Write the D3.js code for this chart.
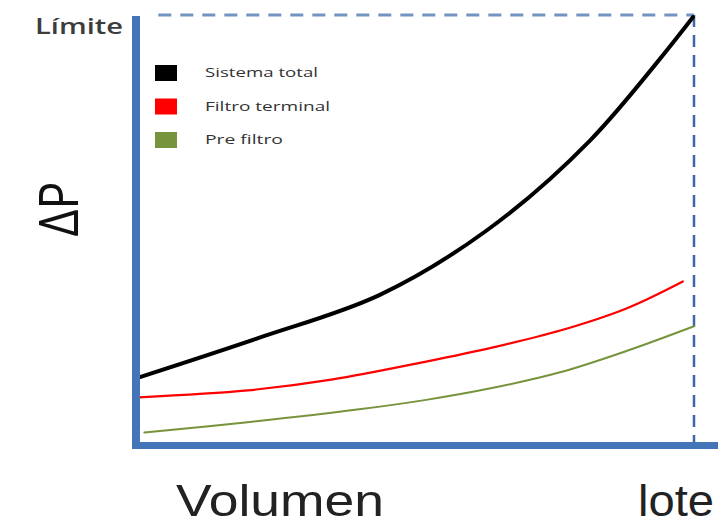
<!DOCTYPE html>
<html>
<head>
<meta charset="utf-8">
<script src="https://cdn.jsdelivr.net/npm/d3@7"></script>
<style>
  html, body { margin: 0; padding: 0; background: #fff; overflow: hidden; }
  svg { display: block; }
</style>
</head>
<body>
<svg id="chart" width="718" height="526"></svg>
<script>
// Pressure drop (ΔP) as filtered volume grows, up to the limit reached at the end of the batch
const seriesNames = ["Sistema total", "Filtro terminal", "Pre filtro"];
const seriesColors = ["#000000", "#ff0000", "#77933c"];

const totalX = [0.7, 22, 43.7, 62.9, 81.4, 99.8];
const totalY = [15.9, 25, 35, 50, 70.9, 99.5];

const terminalX = [0.5, 20, 35, 52, 64, 76, 88, 98];
const terminalY = [11.2, 12.8, 15.3, 19.5, 22.8, 26.7, 31.9, 38.1];

const preX = [1.5, 20, 40, 52, 64, 76, 88, 100];
const preY = [3, 5.4, 8.4, 10.6, 13.4, 17, 22, 27.7];

const limitValue = 100;   // pressure limit
const batchEnd = 100;     // volume at end of batch
const yTickLabels = ["Límite"];

const svg = d3.select("#chart");

const x = d3.scaleLinear().domain([0, 100]).range([136, 694]);
const y = d3.scaleLinear().domain([0, 100]).range([445.5, 15]);

const toPoints = (xs, ys) => xs.map((v, i) => [v, ys[i]]);
const series = [
  toPoints(totalX, totalY),
  toPoints(terminalX, terminalY),
  toPoints(preX, preY)
];
const widths = [4, 2.2, 2];

// limit guides
svg.append("line")
  .attr("x1", x(4)).attr("x2", x(batchEnd))
  .attr("y1", y(limitValue)).attr("y2", y(limitValue))
  .attr("stroke", "#7393c2").attr("stroke-width", 3)
  .attr("stroke-dasharray", "13,9");
svg.append("line")
  .attr("x1", x(batchEnd)).attr("x2", x(batchEnd))
  .attr("y1", y(limitValue)).attr("y2", y(0))
  .attr("stroke", "#3f66a6").attr("stroke-width", 2.5)
  .attr("stroke-dasharray", "12,8");

// curves
const line = d3.line()
  .x(d => x(d[0])).y(d => y(d[1]))
  .curve(d3.curveCatmullRom.alpha(0.5));

svg.selectAll("path.serie")
  .data(series)
  .join("path")
  .attr("class", "serie")
  .attr("d", line)
  .attr("fill", "none")
  .attr("stroke", (d, i) => seriesColors[i])
  .attr("stroke-width", (d, i) => widths[i])
  .attr("stroke-linecap", "round");

// axes
const yAxis = d3.axisLeft(y).tickValues([limitValue]).tickSize(0).tickPadding(8)
  .tickFormat((d, i) => yTickLabels[i]);
const gy = svg.append("g").attr("transform", `translate(${x(0)},0)`).call(yAxis);
gy.select(".domain").remove();
gy.selectAll("text")
  .attr("x", -13)
  .attr("dy", "0.9em")
  .attr("font-family", "'Open Sans', sans-serif")
  .attr("font-weight", "600")
  .attr("font-size", 21)
  .attr("fill", "#3c3c3c")
  .attr("textLength", 88)
  .attr("lengthAdjust", "spacingAndGlyphs");

svg.append("line")
  .attr("x1", x(0)).attr("x2", x(0))
  .attr("y1", y(limitValue) + 1).attr("y2", y(0) + 3.5)
  .attr("stroke", "#4575b9").attr("stroke-width", 8);
svg.append("line")
  .attr("x1", x(0) - 4).attr("x2", 718)
  .attr("y1", y(0)).attr("y2", y(0))
  .attr("stroke", "#4575b9").attr("stroke-width", 7);

// legend
const legend = svg.append("g").attr("transform", "translate(155,65)");
const items = legend.selectAll("g")
  .data(seriesNames)
  .join("g")
  .attr("transform", (d, i) => `translate(0,${i * 33.5})`);
items.append("rect")
  .attr("width", 22).attr("height", 16)
  .attr("fill", (d, i) => seriesColors[i]);
items.append("text")
  .attr("x", 50).attr("y", 12)
  .attr("font-family", "'Open Sans', sans-serif")
  .attr("font-size", 13.5)
  .attr("fill", "#333")
  .attr("textLength", (d, i) => [113, 125, 78][i])
  .attr("lengthAdjust", "spacingAndGlyphs")
  .text(d => d);

// axis titles
svg.append("text")
  .attr("transform", "translate(78,209) rotate(-90)")
  .attr("text-anchor", "middle")
  .attr("font-family", "'Open Sans', sans-serif")
  .attr("font-size", 54)
  .attr("fill", "#111")
  .attr("textLength", 55)
  .attr("lengthAdjust", "spacingAndGlyphs")
  .text("ΔP");

svg.append("text")
  .attr("x", 176).attr("y", 516)
  .attr("font-family", "'Liberation Sans', Arial, sans-serif")
  .attr("font-size", 44)
  .attr("fill", "#222")
  .attr("textLength", 208)
  .attr("lengthAdjust", "spacingAndGlyphs")
  .text("Volumen");

svg.append("text")
  .attr("x", 638).attr("y", 516)
  .attr("font-family", "'Liberation Sans', Arial, sans-serif")
  .attr("font-size", 44)
  .attr("fill", "#222")
  .attr("textLength", 76)
  .attr("lengthAdjust", "spacingAndGlyphs")
  .text("lote");
</script>
</body>
</html>
